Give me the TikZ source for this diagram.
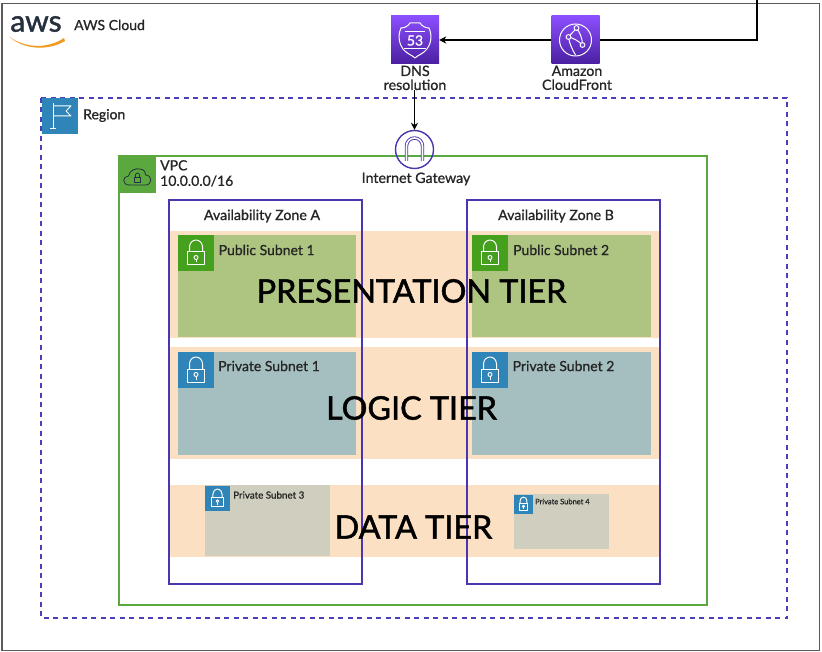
\documentclass[tikz,border=0pt]{standalone}
\usepackage{fontspec}
\setmainfont{Lato}[FakeBold=0.9]
\newfontfamily\tierfont{Lato}[FakeBold=1.6]
\newfontfamily\logofont{Lato}[FakeBold=1.4]
\usetikzlibrary{arrows.meta,calc}
\definecolor{awsgray}{HTML}{5A5A5A}
\definecolor{dashpurple}{HTML}{4B3FB8}
\definecolor{azpurple}{HTML}{4A36B0}
\definecolor{vpcgreen}{HTML}{5BA83F}
\definecolor{tierorange}{HTML}{FBE0C3}
\definecolor{pubgreen}{HTML}{AEC581}
\definecolor{privblue}{HTML}{A5BFC0}
\definecolor{datagray}{HTML}{D0CFBF}
\definecolor{regionblue}{HTML}{2F84B8}
\definecolor{lockgreen}{HTML}{45A01E}
\definecolor{inkdark}{HTML}{262626}
\definecolor{awsnavy}{HTML}{252F3E}
\definecolor{awsorange}{HTML}{F09A1F}
\definecolor{purplelight}{HTML}{8C4FFF}
\definecolor{purpledark}{HTML}{4A1FA0}
\tikzset{
  x=1pt,y=-1pt,
  lbl/.style={text=inkdark,inner sep=0pt,font=\fontsize{14}{15.5}\selectfont,align=left},
  ctr/.style={text=inkdark,inner sep=0pt,font=\fontsize{14.2}{14}\selectfont,align=center},
  tier/.style={text=black,inner sep=0pt,font=\tierfont\fontsize{32.3}{35}\selectfont},
  tierband/.style={fill=tierorange,draw=none},
  azbox/.style={draw=azpurple,line width=1.5pt},
  link/.style={draw=black,line width=1.5pt},
  linkarrow/.style={link,-{Stealth[length=7pt,width=7pt]}},
  iconline/.style={draw=white,line width=1pt,line join=round},
  purplesq/.style={draw=none,minimum size=48pt,inner sep=0pt,bottom color=purpledark,top color=purplelight},
  pics/lockicon/.style n args={2}{code={
    \fill[#1] (-#2/2,-#2/2) rectangle (#2/2,#2/2);
    \begin{scope}[scale=#2/36]
      \draw[iconline] (-8.5,-1) rectangle (8.5,12);
      \draw[iconline] (-6.5,-1) -- (-6.5,-6) arc[start angle=180,end angle=0,x radius=6.5,y radius=-7] -- (6.5,-1);
      \draw[iconline] (0,4.5) circle[radius=2];
      \draw[iconline] (0,6.5) -- (0,9.5);
    \end{scope}
  }}
}
\begin{document}
\begin{tikzpicture}
\useasboundingbox (0,0) rectangle (822,652);
\fill[white] (0,0) rectangle (822,652);
% AWS cloud frame
\draw[awsgray,line width=1.5pt] (2,3.5) rectangle (819.5,650.5);
% tiers
\fill[tierband] (170,231) rectangle (659,338);
\fill[tierband] (170,347) rectangle (659,459);
\fill[tierband] (170,485) rectangle (659,557);
% subnets
\fill[pubgreen] (178,235) rectangle (356,337);
\fill[pubgreen] (472,235) rectangle (651,337);
\fill[privblue] (178,352) rectangle (356,455);
\fill[privblue] (472,352) rectangle (651,455);
\fill[datagray] (205,485) rectangle (330,556);
\fill[datagray] (514,494) rectangle (609,549);
% region
\draw[dashpurple,line width=1.5pt,dash pattern=on 5pt off 4.5pt] (41,98) rectangle (787,618);
\fill[regionblue] (42,98) rectangle (78,134);
\begin{scope}[shift={(60,116)}]
  \draw[iconline] (-7,-13) -- (-7,13) (-10,13) -- (-4,13);
  \draw[iconline] (-7,-10) -- (11,-10) -- (6,-5) -- (11,0) -- (-7,0);
\end{scope}
\node[lbl,anchor=west] (regionlbl) at (83,115.5) {Region};
% VPC
\draw[vpcgreen,line width=1.5pt] (119,156) rectangle (707,605);
\fill[vpcgreen] (119,156) rectangle (156,193);
\begin{scope}[shift={(137.5,176)}]
  \draw[draw=awsnavy,line width=0.8pt,line join=round] (-8,9) .. controls (-16,9) and (-15,0) .. (-9,0) .. controls (-8,-6) and (-1,-8) .. (2,-7) .. controls (7,-7) and (8,-3) .. (8,-1) .. controls (15,-1) and (15,9) .. (8,9) -- cycle;
  \draw[draw=awsnavy,line width=0.8pt] (-3,1) rectangle (3,6);
  \draw[draw=awsnavy,line width=0.8pt] (-2,1) -- (-2,-1) arc[start angle=180,end angle=0,x radius=2,y radius=-2] -- (2,1);
\end{scope}
\node[lbl,anchor=north west] (vpclbl) at (160,160) {VPC\\10.0.0.0/16};
% AZ
\draw[azbox] (169,200) rectangle (362,584);
\draw[azbox] (467,200) rectangle (660,584);
\node[ctr,anchor=center] (aza) at (262,216) {Availability Zone A};
\node[ctr,anchor=center] (azb) at (556,216) {Availability Zone B};
% subnet icons
\pic at (196,253) {lockicon={lockgreen}{36}};
\pic at (490,253) {lockicon={lockgreen}{36}};
\pic at (196,370) {lockicon={regionblue}{36}};
\pic at (490,370) {lockicon={regionblue}{36}};
\pic at (217.5,498) {lockicon={regionblue}{25}};
\pic at (523.5,504) {lockicon={regionblue}{19}};
\node[lbl,anchor=west] (pub1) at (218.5,250) {Public Subnet 1};
\node[lbl,anchor=west] (pub2) at (513,250) {Public Subnet 2};
\node[lbl,anchor=west] (priv1) at (218,366) {Private Subnet 1};
\node[lbl,anchor=west] (priv2) at (512.5,366) {Private Subnet 2};
\node[lbl,anchor=west,font=\fontsize{9.8}{10}\selectfont] (priv3) at (233,495) {Private Subnet 3};
\node[lbl,anchor=west,font=\fontsize{7.5}{8}\selectfont] (priv4) at (535,501.5) {Private Subnet 4};
% tier labels
\node[tier] (t1) at (411.5,291) {PRESENTATION TIER};
\node[tier] (t2) at (411.5,408) {LOGIC TIER};
\node[tier] (t3) at (413.5,527) {DATA TIER};
% AWS logo
\node[text=awsnavy,inner sep=0pt,font=\logofont\fontsize{30}{30}\selectfont,anchor=center] (awslogo) at (36,24) {aws};
\fill[awsorange] (9,36.5) .. controls (25,48.5) and (48,49) .. (64,38) -- (65,41) .. controls (48,51) and (24,50) .. (9,36.5) -- cycle;
\node[lbl,anchor=west] (awscloud) at (74,25) {AWS Cloud};
% Services
\node[purplesq] (dns) at (415,40) {};
\begin{scope}[shift={(415,40)}]
  \draw[iconline] (-14,-12) .. controls (-10,-12) and (-7,-14) .. (-5,-17) -- (5,-17) .. controls (7,-14) and (10,-12) .. (14,-12) .. controls (18,-3) and (15,5) .. (12,9) .. controls (8,14) and (3,15) .. (0,18) .. controls (-3,15) and (-8,14) .. (-12,9) .. controls (-15,5) and (-18,-3) .. (-14,-12) -- cycle;
  \draw[iconline] (-10,-8) -- (10,-8) (-11,9) -- (11,9);
  \node[text=white,inner sep=0pt,font=\fontsize{14}{14}\selectfont] (dnsnum) at (0,0.5) {53};
\end{scope}
\node[ctr,anchor=north] (dnslbl) at (415,65.5) {DNS\\resolution};
\node[purplesq] (cf) at (575.5,40) {};
\begin{scope}[shift={(575.5,40)}]
  \draw[iconline] (0,0) circle[radius=16];
  \draw[iconline] (-7,-3) .. controls (-3,-8) and (0,-10) .. (1,-12);
  \draw[iconline] (1,-12) .. controls (4,-8) and (7,-2) .. (7,5);
  \draw[iconline] (-7,-3) .. controls (-2,-2) and (3,1) .. (7,5);
  \draw[iconline] (-7,-3) .. controls (-6,4) and (-3,10) .. (0,15);
  \draw[iconline,fill=purplelight!70!purpledark] (1,-12) circle[radius=2.4];
  \draw[iconline,fill=purplelight!70!purpledark] (-7,-3) circle[radius=2.4];
  \draw[iconline,fill=purplelight!70!purpledark] (7,5) circle[radius=2.4];
\end{scope}
\node[ctr,anchor=north] (cflbl) at (577,65.5) {Amazon\\CloudFront};
% IGW
\node[draw=azpurple,circle,line width=1.4pt,fill=none,minimum size=38pt,inner sep=0pt] (igw) at (414.5,149.5) {};
\draw[azpurple,line width=0.9pt,double=white,double distance=1.6pt,line join=round] (406.5,161) -- (406.5,146) arc[start angle=180,end angle=0,x radius=8,y radius=-8] -- (422.5,161);
\node[ctr,anchor=center] (igwlbl) at (416,179) {Internet Gateway};
% connectors
\coordinate (entry) at (757,0);
\draw[link] (entry) |- (cf.east);
\draw[linkarrow] (cf.west) -- (dns.east);
\draw[linkarrow] (dnslbl.south -| igw.north) -- (igw.north);
\end{tikzpicture}
\end{document}
